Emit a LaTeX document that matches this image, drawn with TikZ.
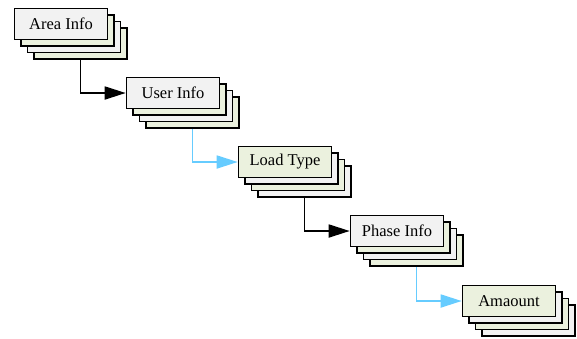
\documentclass[tikz,border=0pt]{standalone}
\usepackage{fontspec}
\setmainfont{Liberation Serif}
\usetikzlibrary{arrows.meta}
\definecolor{Paper}{HTML}{F2F2F2}
\definecolor{Olive}{HTML}{EBF1DE}
\definecolor{Sky}{HTML}{66CCFF}
\tikzset{
    card/.style={rectangle, draw=black, line width=1.6pt, minimum width=93pt, minimum height=31pt, inner sep=0pt, font=\fontsize{16.5}{18}\selectfont},
    flow/.style={-{Triangle[length=21pt, width=13pt]}, line width=1.8pt},
}
\begin{document}
\begin{tikzpicture}[x=1pt, y=-1pt]
    \useasboundingbox (0,0) rectangle (577,338);

    % pile di schede: prima i fogli dietro, poi quello davanti
    \foreach \name/\cx/\cy/\fa/\fb/\txt in {
        area/61/24/Paper/Olive/Area Info,
        user/173/93/Paper/Olive/User Info,
        load/285/162/Olive/Paper/Load Type,
        phase/397/231/Paper/Olive/Phase Info,
        amount/509/301/Olive/Paper/Amaount}{
        \foreach \k in {3,2,1}{
            \ifodd\k \def\lc{\fb}\else \def\lc{\fa}\fi
            \node[card, fill=\lc] (\name\k) at (\cx+6.5*\k, \cy+6.5*\k) {};
        }
        \node[card, fill=\fa] (\name) at (\cx, \cy) {\txt};
    }

    % frecce a gomito tra le pile
    \draw[flow, black] (area3.south) |- (user);
    \draw[flow, Sky] (user3.south) |- (load);
    \draw[flow, black] (load3.south) |- (phase);
    \draw[flow, Sky] (phase3.south) |- (amount);
\end{tikzpicture}
\end{document}
